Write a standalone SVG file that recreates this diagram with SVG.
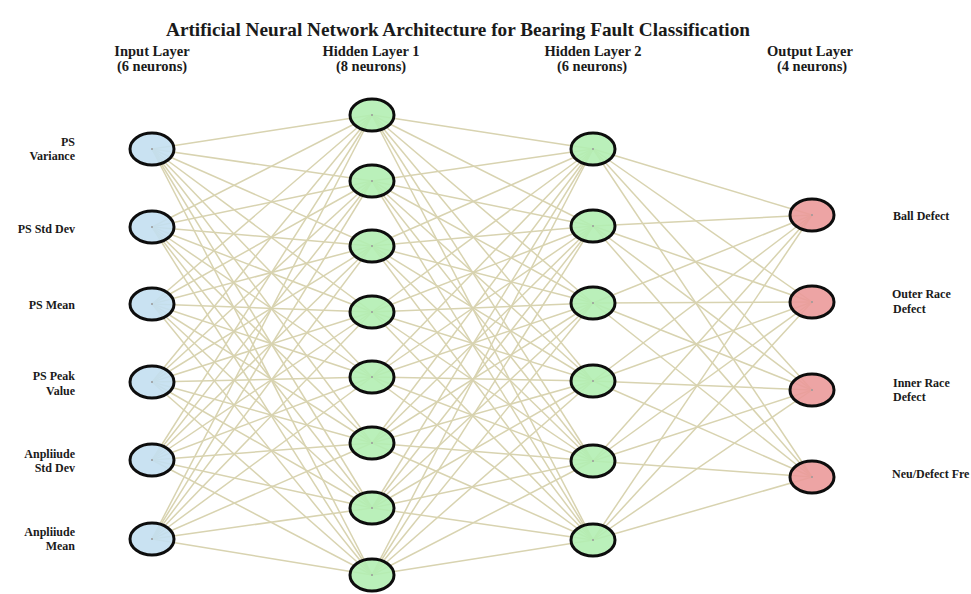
<svg xmlns="http://www.w3.org/2000/svg" width="971" height="594" viewBox="0 0 971 594">
<style>
  .title { font-family: "Liberation Serif", "DejaVu Serif", serif; font-weight: bold; font-size: 19px; fill: #1a1a1a; }
  .head { font-family: "Liberation Serif", "DejaVu Serif", serif; font-weight: bold; font-size: 14.5px; fill: #1a1a1a; text-anchor: middle; }
  .lbl { font-family: "Liberation Serif", "DejaVu Serif", serif; font-weight: bold; font-size: 12px; fill: #1a1a1a; }
  .lbl-r { text-anchor: end; }
  .edges line { stroke: #d8d3b0; stroke-width: 1.5; }
  .node ellipse.body { stroke: #0d0d0d; stroke-width: 3; fill-opacity: 0.9; }
  .in ellipse.body { fill: #c3dff1; }
  .h ellipse.body { fill: #b3eeb2; }
  .out ellipse.body { fill: #eb9a9a; }
  .dot { fill: #9a9a9a; }
</style>
<rect width="971" height="594" fill="#ffffff"/>

<text class="title" x="458" y="36" text-anchor="middle" textLength="584" lengthAdjust="spacingAndGlyphs">Artificial Neural Network Architecture for Bearing Fault Classification</text>

<g id="layer-headers">
  <text class="head" x="152" y="56">Input Layer</text>
  <text class="head" x="152" y="71">(6 neurons)</text>
  <text class="head" x="371" y="56">Hidden Layer 1</text>
  <text class="head" x="371" y="71">(8 neurons)</text>
  <text class="head" x="593" y="56">Hidden Layer 2</text>
  <text class="head" x="592" y="71">(6 neurons)</text>
  <text class="head" x="810" y="56">Output Layer</text>
  <text class="head" x="812" y="71">(4 neurons)</text>
</g>

<g id="connectors" class="edges">
  <!-- input -> hidden 1 -->
  <line x1="152" y1="149" x2="372" y2="115"/><line x1="152" y1="149" x2="372" y2="181"/><line x1="152" y1="149" x2="372" y2="246"/><line x1="152" y1="149" x2="372" y2="312"/><line x1="152" y1="149" x2="372" y2="377"/><line x1="152" y1="149" x2="372" y2="443"/><line x1="152" y1="149" x2="372" y2="508"/><line x1="152" y1="149" x2="372" y2="575"/>
  <line x1="152" y1="227" x2="372" y2="115"/><line x1="152" y1="227" x2="372" y2="181"/><line x1="152" y1="227" x2="372" y2="246"/><line x1="152" y1="227" x2="372" y2="312"/><line x1="152" y1="227" x2="372" y2="377"/><line x1="152" y1="227" x2="372" y2="443"/><line x1="152" y1="227" x2="372" y2="508"/><line x1="152" y1="227" x2="372" y2="575"/>
  <line x1="152" y1="304" x2="372" y2="115"/><line x1="152" y1="304" x2="372" y2="181"/><line x1="152" y1="304" x2="372" y2="246"/><line x1="152" y1="304" x2="372" y2="312"/><line x1="152" y1="304" x2="372" y2="377"/><line x1="152" y1="304" x2="372" y2="443"/><line x1="152" y1="304" x2="372" y2="508"/><line x1="152" y1="304" x2="372" y2="575"/>
  <line x1="152" y1="382" x2="372" y2="115"/><line x1="152" y1="382" x2="372" y2="181"/><line x1="152" y1="382" x2="372" y2="246"/><line x1="152" y1="382" x2="372" y2="312"/><line x1="152" y1="382" x2="372" y2="377"/><line x1="152" y1="382" x2="372" y2="443"/><line x1="152" y1="382" x2="372" y2="508"/><line x1="152" y1="382" x2="372" y2="575"/>
  <line x1="152" y1="460" x2="372" y2="115"/><line x1="152" y1="460" x2="372" y2="181"/><line x1="152" y1="460" x2="372" y2="246"/><line x1="152" y1="460" x2="372" y2="312"/><line x1="152" y1="460" x2="372" y2="377"/><line x1="152" y1="460" x2="372" y2="443"/><line x1="152" y1="460" x2="372" y2="508"/><line x1="152" y1="460" x2="372" y2="575"/>
  <line x1="152" y1="539" x2="372" y2="115"/><line x1="152" y1="539" x2="372" y2="181"/><line x1="152" y1="539" x2="372" y2="246"/><line x1="152" y1="539" x2="372" y2="312"/><line x1="152" y1="539" x2="372" y2="377"/><line x1="152" y1="539" x2="372" y2="443"/><line x1="152" y1="539" x2="372" y2="508"/><line x1="152" y1="539" x2="372" y2="575"/>
  <!-- hidden 1 -> hidden 2 -->
  <line x1="372" y1="115" x2="593" y2="149"/><line x1="372" y1="115" x2="593" y2="226"/><line x1="372" y1="115" x2="593" y2="303"/><line x1="372" y1="115" x2="593" y2="381"/><line x1="372" y1="115" x2="593" y2="461"/><line x1="372" y1="115" x2="593" y2="540"/>
  <line x1="372" y1="181" x2="593" y2="149"/><line x1="372" y1="181" x2="593" y2="226"/><line x1="372" y1="181" x2="593" y2="303"/><line x1="372" y1="181" x2="593" y2="381"/><line x1="372" y1="181" x2="593" y2="461"/><line x1="372" y1="181" x2="593" y2="540"/>
  <line x1="372" y1="246" x2="593" y2="149"/><line x1="372" y1="246" x2="593" y2="226"/><line x1="372" y1="246" x2="593" y2="303"/><line x1="372" y1="246" x2="593" y2="381"/><line x1="372" y1="246" x2="593" y2="461"/><line x1="372" y1="246" x2="593" y2="540"/>
  <line x1="372" y1="312" x2="593" y2="149"/><line x1="372" y1="312" x2="593" y2="226"/><line x1="372" y1="312" x2="593" y2="303"/><line x1="372" y1="312" x2="593" y2="381"/><line x1="372" y1="312" x2="593" y2="461"/><line x1="372" y1="312" x2="593" y2="540"/>
  <line x1="372" y1="377" x2="593" y2="149"/><line x1="372" y1="377" x2="593" y2="226"/><line x1="372" y1="377" x2="593" y2="303"/><line x1="372" y1="377" x2="593" y2="381"/><line x1="372" y1="377" x2="593" y2="461"/><line x1="372" y1="377" x2="593" y2="540"/>
  <line x1="372" y1="443" x2="593" y2="149"/><line x1="372" y1="443" x2="593" y2="226"/><line x1="372" y1="443" x2="593" y2="303"/><line x1="372" y1="443" x2="593" y2="381"/><line x1="372" y1="443" x2="593" y2="461"/><line x1="372" y1="443" x2="593" y2="540"/>
  <line x1="372" y1="508" x2="593" y2="149"/><line x1="372" y1="508" x2="593" y2="226"/><line x1="372" y1="508" x2="593" y2="303"/><line x1="372" y1="508" x2="593" y2="381"/><line x1="372" y1="508" x2="593" y2="461"/><line x1="372" y1="508" x2="593" y2="540"/>
  <line x1="372" y1="575" x2="593" y2="149"/><line x1="372" y1="575" x2="593" y2="226"/><line x1="372" y1="575" x2="593" y2="303"/><line x1="372" y1="575" x2="593" y2="381"/><line x1="372" y1="575" x2="593" y2="461"/><line x1="372" y1="575" x2="593" y2="540"/>
  <!-- hidden 2 -> output -->
  <line x1="593" y1="149" x2="812" y2="215"/><line x1="593" y1="149" x2="812" y2="302"/><line x1="593" y1="149" x2="812" y2="390"/><line x1="593" y1="149" x2="812" y2="477"/>
  <line x1="593" y1="226" x2="812" y2="215"/><line x1="593" y1="226" x2="812" y2="302"/><line x1="593" y1="226" x2="812" y2="390"/><line x1="593" y1="226" x2="812" y2="477"/>
  <line x1="593" y1="303" x2="812" y2="215"/><line x1="593" y1="303" x2="812" y2="302"/><line x1="593" y1="303" x2="812" y2="390"/><line x1="593" y1="303" x2="812" y2="477"/>
  <line x1="593" y1="381" x2="812" y2="215"/><line x1="593" y1="381" x2="812" y2="302"/><line x1="593" y1="381" x2="812" y2="390"/><line x1="593" y1="381" x2="812" y2="477"/>
  <line x1="593" y1="461" x2="812" y2="215"/><line x1="593" y1="461" x2="812" y2="302"/><line x1="593" y1="461" x2="812" y2="390"/><line x1="593" y1="461" x2="812" y2="477"/>
  <line x1="593" y1="540" x2="812" y2="215"/><line x1="593" y1="540" x2="812" y2="302"/><line x1="593" y1="540" x2="812" y2="390"/><line x1="593" y1="540" x2="812" y2="477"/>
</g>

<!-- input layer -->
<g id="in-1" class="node in"><ellipse class="body" cx="152" cy="149" rx="22" ry="16"/><circle class="dot" cx="152" cy="149" r="1"/><text class="lbl lbl-r" x="75" y="146">PS</text><text class="lbl lbl-r" x="75" y="160">Variance</text></g>
<g id="in-2" class="node in"><ellipse class="body" cx="152" cy="227" rx="22" ry="16"/><circle class="dot" cx="152" cy="227" r="1"/><text class="lbl lbl-r" x="75" y="233">PS Std Dev</text></g>
<g id="in-3" class="node in"><ellipse class="body" cx="152" cy="304" rx="22" ry="16"/><circle class="dot" cx="152" cy="304" r="1"/><text class="lbl lbl-r" x="75" y="309">PS Mean</text></g>
<g id="in-4" class="node in"><ellipse class="body" cx="152" cy="382" rx="22" ry="16"/><circle class="dot" cx="152" cy="382" r="1"/><text class="lbl lbl-r" x="75" y="380">PS Peak</text><text class="lbl lbl-r" x="75" y="395">Value</text></g>
<g id="in-5" class="node in"><ellipse class="body" cx="152" cy="460" rx="22" ry="16"/><circle class="dot" cx="152" cy="460" r="1"/><text class="lbl lbl-r" x="75" y="458">Anpliiude</text><text class="lbl lbl-r" x="75" y="472">Std Dev</text></g>
<g id="in-6" class="node in"><ellipse class="body" cx="152" cy="539" rx="22" ry="16"/><circle class="dot" cx="152" cy="539" r="1"/><text class="lbl lbl-r" x="75" y="536">Anpliiude</text><text class="lbl lbl-r" x="75" y="550">Mean</text></g>

<!-- hidden layer 1 -->
<g id="h1-1" class="node h"><ellipse class="body" cx="372" cy="115" rx="22" ry="16"/><circle class="dot" cx="372" cy="115" r="1"/></g>
<g id="h1-2" class="node h"><ellipse class="body" cx="372" cy="181" rx="22" ry="16"/><circle class="dot" cx="372" cy="181" r="1"/></g>
<g id="h1-3" class="node h"><ellipse class="body" cx="372" cy="246" rx="22" ry="16"/><circle class="dot" cx="372" cy="246" r="1"/></g>
<g id="h1-4" class="node h"><ellipse class="body" cx="372" cy="312" rx="22" ry="16"/><circle class="dot" cx="372" cy="312" r="1"/></g>
<g id="h1-5" class="node h"><ellipse class="body" cx="372" cy="377" rx="22" ry="16"/><circle class="dot" cx="372" cy="377" r="1"/></g>
<g id="h1-6" class="node h"><ellipse class="body" cx="372" cy="443" rx="22" ry="16"/><circle class="dot" cx="372" cy="443" r="1"/></g>
<g id="h1-7" class="node h"><ellipse class="body" cx="372" cy="508" rx="22" ry="16"/><circle class="dot" cx="372" cy="508" r="1"/></g>
<g id="h1-8" class="node h"><ellipse class="body" cx="372" cy="575" rx="22" ry="16"/><circle class="dot" cx="372" cy="575" r="1"/></g>

<!-- hidden layer 2 -->
<g id="h2-1" class="node h"><ellipse class="body" cx="593" cy="149" rx="22" ry="16"/><circle class="dot" cx="593" cy="149" r="1"/></g>
<g id="h2-2" class="node h"><ellipse class="body" cx="593" cy="226" rx="22" ry="16"/><circle class="dot" cx="593" cy="226" r="1"/></g>
<g id="h2-3" class="node h"><ellipse class="body" cx="593" cy="303" rx="22" ry="16"/><circle class="dot" cx="593" cy="303" r="1"/></g>
<g id="h2-4" class="node h"><ellipse class="body" cx="593" cy="381" rx="22" ry="16"/><circle class="dot" cx="593" cy="381" r="1"/></g>
<g id="h2-5" class="node h"><ellipse class="body" cx="593" cy="461" rx="22" ry="16"/><circle class="dot" cx="593" cy="461" r="1"/></g>
<g id="h2-6" class="node h"><ellipse class="body" cx="593" cy="540" rx="22" ry="16"/><circle class="dot" cx="593" cy="540" r="1"/></g>

<!-- output layer -->
<g id="out-1" class="node out"><ellipse class="body" cx="812" cy="215" rx="22" ry="16"/><circle class="dot" cx="812" cy="215" r="1"/><text class="lbl" x="893" y="220">Ball Defect</text></g>
<g id="out-2" class="node out"><ellipse class="body" cx="812" cy="302" rx="22" ry="16"/><circle class="dot" cx="812" cy="302" r="1"/><text class="lbl" x="892" y="298">Outer Race</text><text class="lbl" x="893" y="313">Defect</text></g>
<g id="out-3" class="node out"><ellipse class="body" cx="812" cy="390" rx="22" ry="16"/><circle class="dot" cx="812" cy="390" r="1"/><text class="lbl" x="893" y="387">Inner Race</text><text class="lbl" x="893" y="401">Defect</text></g>
<g id="out-4" class="node out"><ellipse class="body" cx="812" cy="477" rx="22" ry="16"/><circle class="dot" cx="812" cy="477" r="1"/><text class="lbl" x="892" y="478">Neu/Defect Fre</text></g>
</svg>
